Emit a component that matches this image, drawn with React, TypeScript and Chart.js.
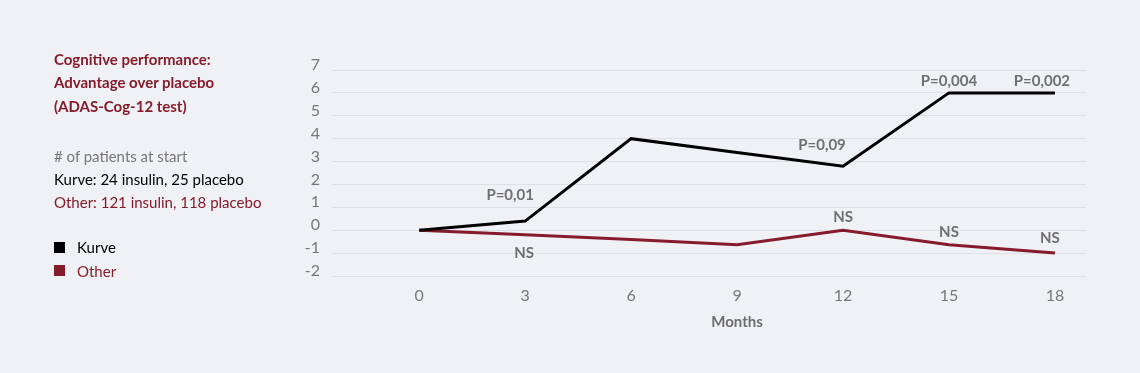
import React, { useEffect, useRef } from "react";
import { Chart, registerables } from "chart.js";

Chart.register(...registerables);

const months = [0, 3, 6, 9, 12, 15, 18];
const kurveValues = [0, 0.4, 4.0, 3.4, 2.8, 6.0, 6.0];
const otherValues = [0, -0.2, -0.4, -0.63, 0, -0.63, -1.0];
const yTicks = [7, 6, 5, 4, 3, 2, 1, 0, -1, -2];
const xTitle = "Months";

// annotation labels: [datasetIndex, pointIndex, text, dx, dy]
const annotationTexts = ["P=0,01", "NS", "P=0,09", "NS", "P=0,004", "P=0,002", "NS", "NS"];
const annotationDataset = [0, 1, 0, 1, 0, 0, 1, 1];
const annotationPoint = [1, 1, 4, 4, 5, 6, 5, 6];
const annotationDx = [-15, -1, -21, 0, 0, -13, 0, -5];
const annotationDy = [-26, 18, -21, -13, -12, -12, -12, -15];

const MAROON = "#861b2b";
const GRAY = "#777777";
const BG = "#f0f1f5";

const annotationPlugin = {
  id: "pointLabels",
  afterDatasetsDraw(chart: any) {
    const ctx = chart.ctx;
    ctx.save();
    ctx.font = "bold 15px Lato";
    ctx.fillStyle = "#6f6f6f";
    ctx.textAlign = "center";
    ctx.textBaseline = "middle";
    annotationTexts.forEach((t, i) => {
      const meta = chart.getDatasetMeta(annotationDataset[i]);
      const el = meta.data[annotationPoint[i]];
      if (!el) return;
      ctx.fillText(t, el.x + annotationDx[i], el.y + annotationDy[i]);
    });
    // x-axis title centred on the data range
    const xs = chart.scales.x;
    const cx = (xs.getPixelForValue(months[0]) + xs.getPixelForValue(months[months.length - 1])) / 2;
    ctx.font = "bold 15px Lato";
    ctx.fillStyle = "#6d6d6d";
    ctx.fillText(xTitle, cx, xs.top + 46);
    ctx.restore();
  },
};

export default function App() {
  const canvasRef = useRef<HTMLCanvasElement>(null);

  useEffect(() => {
    if (!canvasRef.current) return;
    const chart = new Chart(canvasRef.current, {
      type: "line",
      data: {
        datasets: [
          {
            label: "Kurve",
            data: months.map((m, i) => ({ x: m, y: kurveValues[i] })),
            borderColor: "#000000",
            borderWidth: 3,
            pointRadius: 0,
            tension: 0,
          },
          {
            label: "Other",
            data: months.map((m, i) => ({ x: m, y: otherValues[i] })),
            borderColor: MAROON,
            borderWidth: 3,
            pointRadius: 0,
            tension: 0,
          },
        ],
      },
      options: {
        animation: false,
        responsive: false,
        layout: { padding: { top: 70, right: 54, left: 0, bottom: 0 } },
        plugins: {
          legend: { display: false },
          tooltip: { enabled: false },
        },
        scales: {
          x: {
            type: "linear",
            min: -2.47,
            max: 18.88,
            afterBuildTicks: (scale: any) => {
              scale.ticks = months.map((m) => ({ value: m }));
            },
            afterFit: (scale: any) => {
              scale.height = 97;
            },
            grid: { display: false, drawTicks: false },
            border: { display: false },
            ticks: {
              padding: 10,
              color: GRAY,
              font: { family: "Lato", size: 16 },
            },
          },
          y: {
            type: "linear",
            min: -2,
            max: 7,
            afterBuildTicks: (scale: any) => {
              scale.ticks = yTicks.map((v) => ({ value: v }));
            },
            afterFit: (scale: any) => {
              scale.width = 332;
            },
            grid: { color: "#dfe0e5", lineWidth: 1, drawTicks: false },
            border: { display: false },
            ticks: {
              padding: 12,
              labelOffset: -5,
              color: GRAY,
              font: { family: "Lato", size: 16 },
            },
          },
        },
      },
      plugins: [annotationPlugin],
    } as any);
    return () => chart.destroy();
  }, []);

  const textBase: React.CSSProperties = {
    position: "absolute",
    left: 54,
    fontFamily: "Lato",
    fontSize: 15,
    whiteSpace: "nowrap",
  };

  return (
    <div
      style={{
        position: "absolute",
        left: 0,
        top: 0,
        width: 1140,
        height: 373,
        background: BG,
        overflow: "hidden",
      }}
    >
      <canvas
        ref={canvasRef}
        width={1140}
        height={373}
        style={{ position: "absolute", left: 0, top: 0, width: 1140, height: 373 }}
      />
      <div style={{ ...textBase, top: 47.5, lineHeight: "23.5px", fontWeight: "bold", color: MAROON }}>
        <div>Cognitive performance:</div>
        <div>Advantage over placebo</div>
        <div>(ADAS-Cog-12 test)</div>
      </div>
      <div style={{ ...textBase, top: 144.5, lineHeight: "23.3px" }}>
        <div style={{ color: GRAY }}># of patients at start</div>
        <div style={{ color: "#000" }}>Kurve: 24 insulin, 25 placebo</div>
        <div style={{ color: MAROON }}>Other: 121 insulin, 118 placebo</div>
      </div>
      <div style={{ position: "absolute", left: 54, top: 242, width: 11, height: 11, background: "#000" }} />
      <div style={{ ...textBase, left: 77, top: 236.5, lineHeight: "20px", color: "#000" }}>Kurve</div>
      <div style={{ position: "absolute", left: 54, top: 265, width: 11, height: 11, background: MAROON }} />
      <div style={{ ...textBase, left: 77, top: 260.5, lineHeight: "20px", color: MAROON }}>Other</div>
    </div>
  );
}
